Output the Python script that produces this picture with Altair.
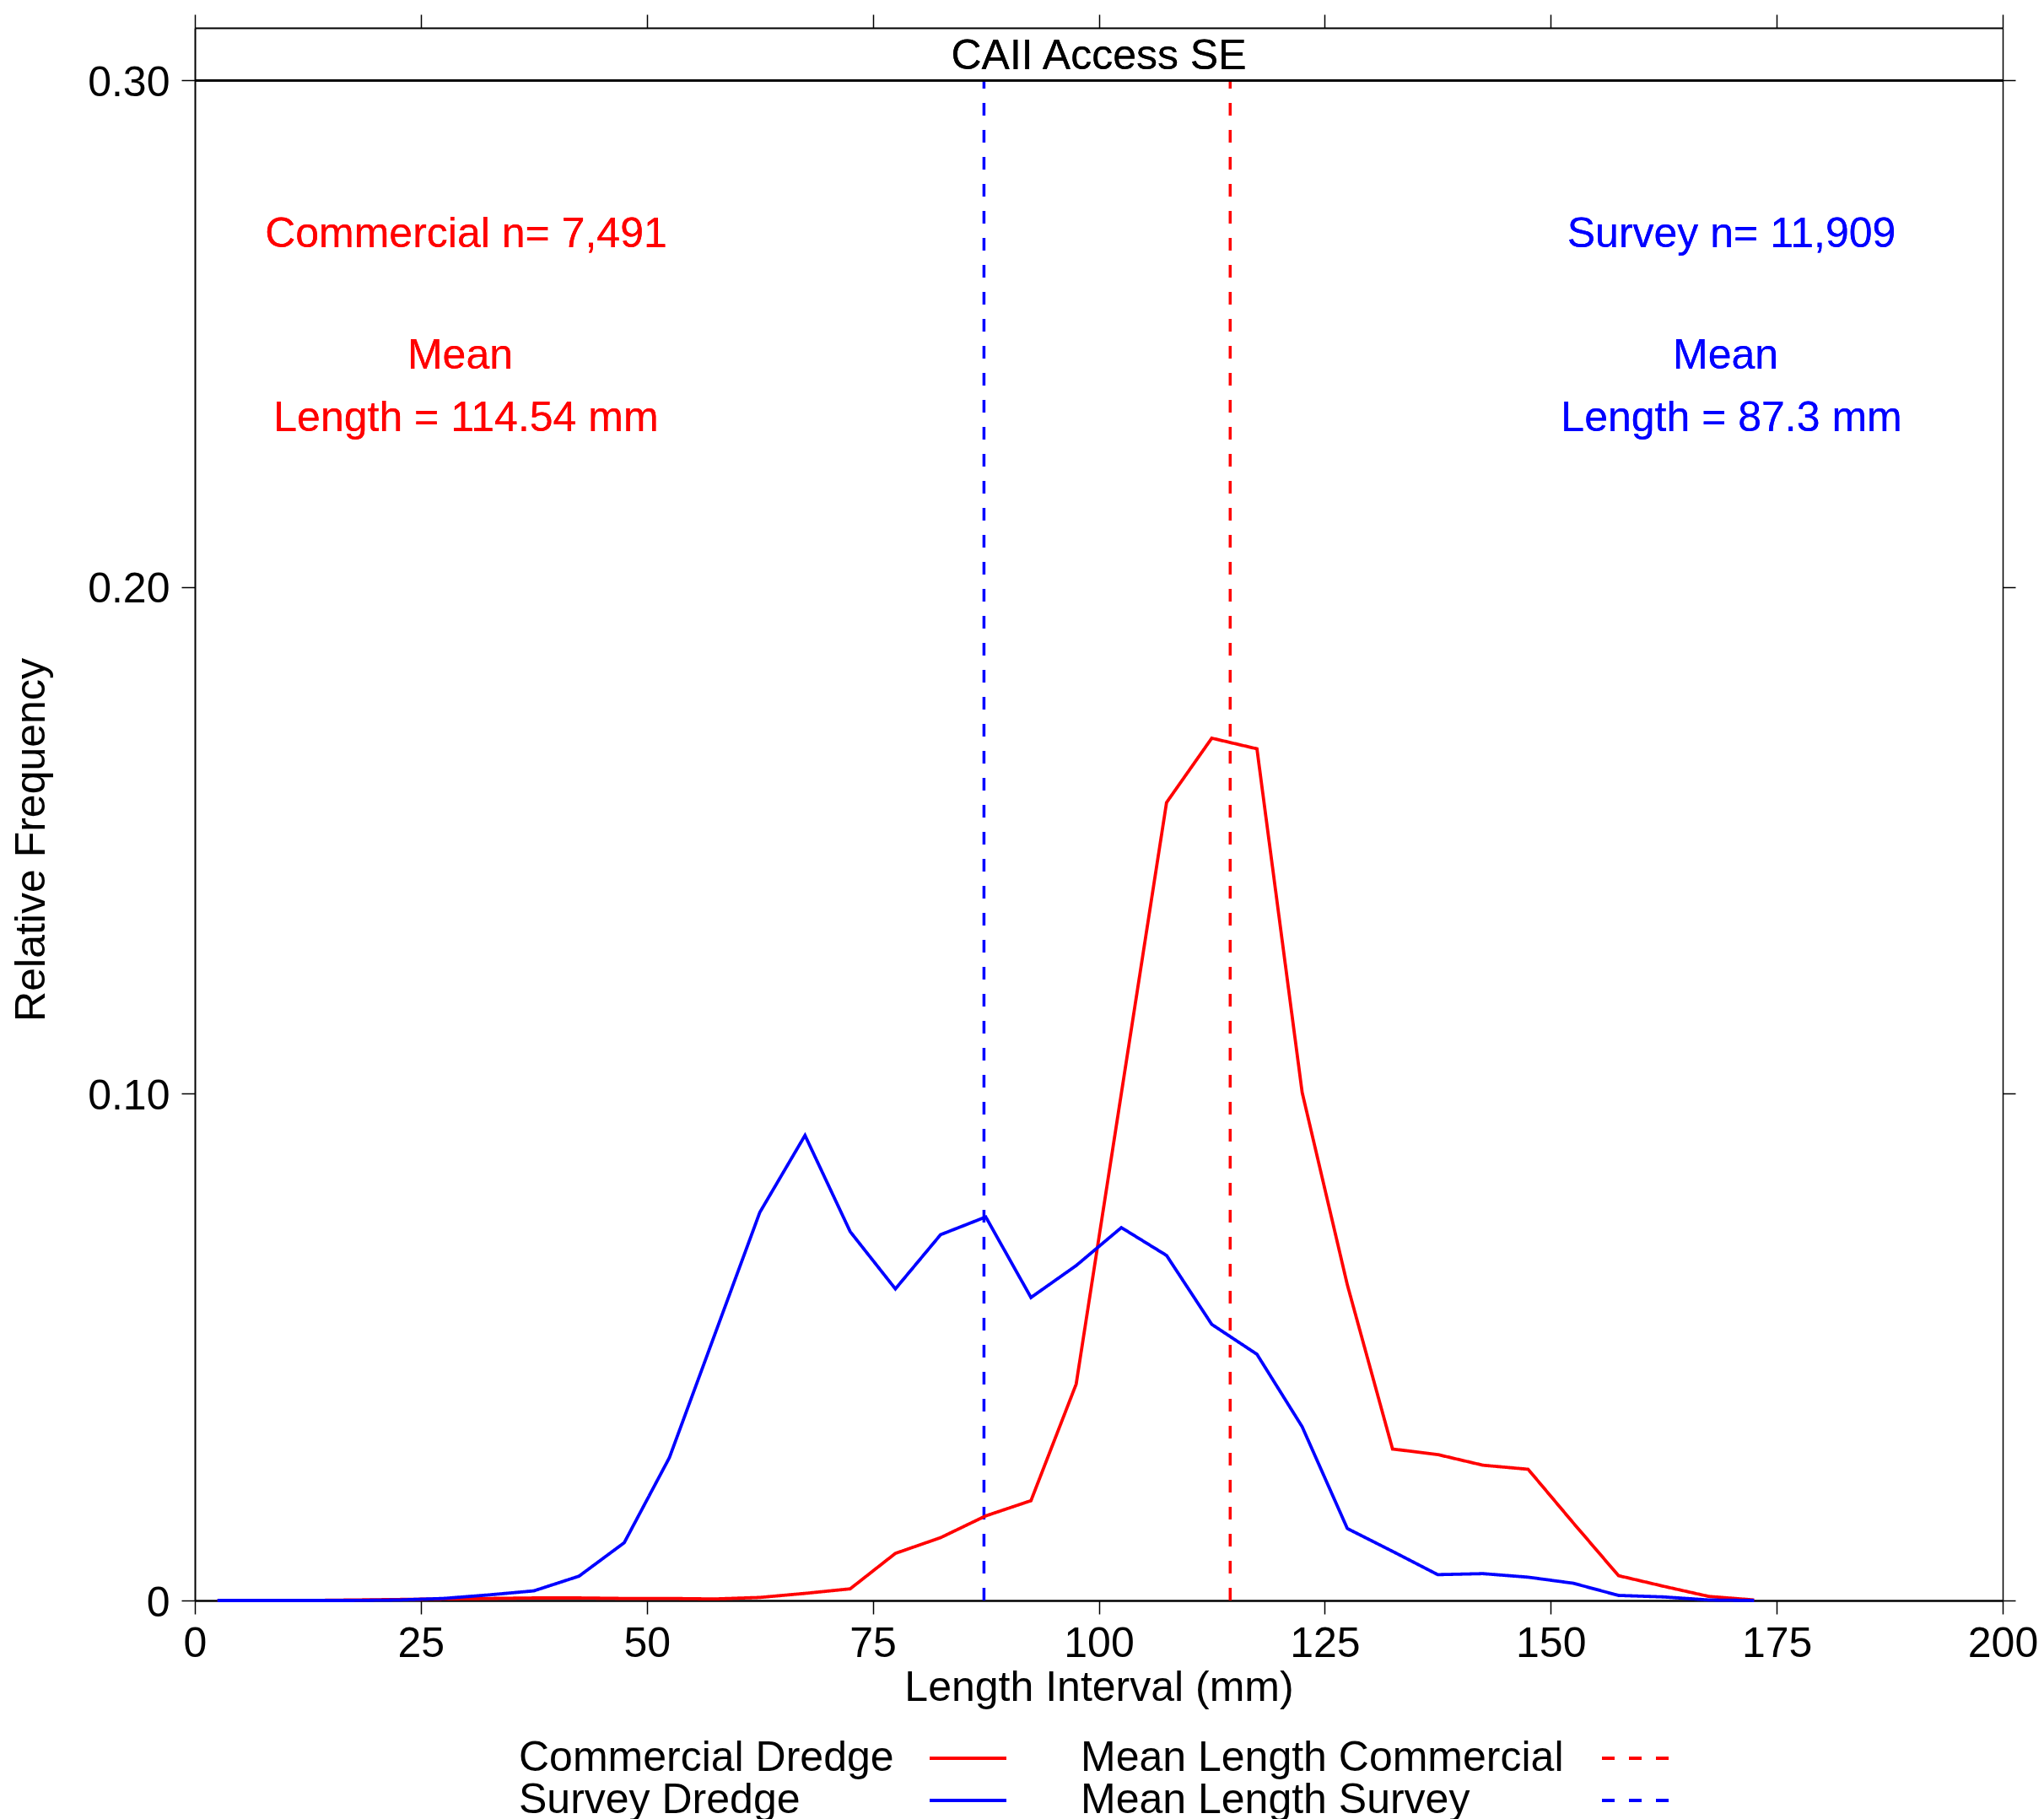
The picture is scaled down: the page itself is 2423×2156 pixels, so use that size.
import altair as alt
import pandas as pd

FONT = "Liberation Sans"

# 5 mm length intervals (bin midpoints)
length_mid = [2.5, 7.5, 12.5, 17.5, 22.5, 27.5, 32.5, 37.5, 42.5, 47.5,
              52.5, 57.5, 62.5, 67.5, 72.5, 77.5, 82.5, 87.5, 92.5, 97.5,
              102.5, 107.5, 112.5, 117.5, 122.5, 127.5, 132.5, 137.5, 142.5, 147.5,
              152.5, 157.5, 162.5, 167.5, 172.5]

commercial_freq = [0.0000, 0.0000, 0.0000, 0.0001, 0.0002, 0.0003, 0.0004, 0.0005, 0.0005, 0.0004,
                   0.0004, 0.0003, 0.0006, 0.0014, 0.0023, 0.0093, 0.0124, 0.0167, 0.0197, 0.0427,
                   0.1001, 0.1575, 0.1702, 0.1681, 0.1003, 0.0623, 0.0299, 0.0288, 0.0267, 0.0259,
                   0.0153, 0.0049, 0.0028, 0.0008, 0.0001]

survey_freq = [0.0000, 0.0000, 0.0000, 0.0000, 0.0001, 0.0004, 0.0011, 0.0019, 0.0048, 0.0114,
               0.0282, 0.0524, 0.0766, 0.0918, 0.0728, 0.0615, 0.0722, 0.0757, 0.0598, 0.0661,
               0.0736, 0.0681, 0.0545, 0.0486, 0.0343, 0.0142, 0.0097, 0.0051, 0.0053, 0.0046,
               0.0034, 0.0010, 0.0007, 0.0001, 0.0000]

series_names = ["Commercial Dredge", "Mean Length Commercial", "Survey Dredge", "Mean Length Survey"]
series_colors = ["#ff0000", "#ff0000", "#0000ff", "#0000ff"]
series_dashes = [[1, 0], [15, 17], [1, 0], [15, 17]]

mean_lengths = [114.54, 87.3]
mean_series = ["Mean Length Commercial", "Mean Length Survey"]
sample_sizes = ["7,491", "11,909"]

x_ticks = [0, 25, 50, 75, 100, 125, 150, 175, 200]
y_ticks = [0, 0.10, 0.20, 0.30]

freq = pd.DataFrame({
    "length": length_mid + length_mid,
    "freq": commercial_freq + survey_freq,
    "series": ["Commercial Dredge"] * len(length_mid) + ["Survey Dredge"] * len(length_mid),
})
means = pd.DataFrame({"mean": mean_lengths, "series": mean_series})

x_scale = alt.Scale(domain=[0, 200], nice=False, zero=False)
y_scale = alt.Scale(domain=[0, 0.3104], nice=False, zero=False)
color_scale = alt.Scale(domain=series_names, range=series_colors)
dash_scale = alt.Scale(domain=series_names, range=series_dashes)

# Two-column legend: label first, then a long line sample further right.
# The sample is a custom path twice the nominal symbol width, so entry rows stay compact.
sample_shift = "(datum.index % 2 ? 688.5 : 557.5)"
legend = alt.Legend(
    title=None, orient="none", legendX=334, legendY=2026, direction="horizontal", columns=2,
    symbolType="M-2,0H2", symbolSize=2070, symbolStrokeWidth=4,
    symbolOffset={"expr": sample_shift},
    labelFont=FONT, labelFontSize=50, labelColor="black", labelAlign="left",
    labelOffset={"expr": "-" + sample_shift}, labelLimit=2000,
    columnPadding=30, rowPadding=0, padding=0,
)

bottom_axis = alt.Axis(
    orient="bottom", values=x_ticks, tickSize=16, tickWidth=1.5, domainWidth=2.5,
    labelFlush=False, labelOverlap=False, labelBaseline="alphabetic", labelPadding=50,
    title="Length Interval (mm)", titleBaseline="alphabetic", titleY=118,
)
left_axis = alt.Axis(
    orient="left", values=y_ticks, tickSize=16, tickWidth=1.5, domainWidth=2,
    labelFlush=False, labelOverlap=False, labelBaseline="alphabetic", labelOffset=18,
    labelPadding=14, labelExpr="datum.value == 0 ? '0' : format(datum.value, '.2f')",
    title="Relative Frequency", titleBaseline="alphabetic", titleAngle=270,
    titleAlign="center", titleX=-179, titleY=962,
)
top_axis = alt.Axis(orient="top", values=x_ticks, tickSize=16, tickWidth=1.5,
                    domainWidth=2, labels=False, title=None)
right_axis = alt.Axis(orient="right", values=y_ticks, tickSize=15, tickWidth=1.5,
                      domainWidth=1.5, labels=False, title=None)

# dashed mean-length lines (also carries the top and right frame axes)
mean_rules = alt.Chart(means).mark_rule(strokeWidth=3.5).encode(
    x=alt.X("mean:Q", scale=x_scale, axis=top_axis),
    y=alt.YDatum(0, scale=y_scale, axis=right_axis),
    y2=alt.Y2Datum(0.30),
    color=alt.Color("series:N", scale=color_scale, legend=legend),
    strokeDash=alt.StrokeDash("series:N", scale=dash_scale, legend=legend),
)

# length-frequency curves
curves = alt.Chart(freq).mark_line(strokeWidth=3.8).encode(
    x=alt.X("length:Q", scale=x_scale, axis=bottom_axis),
    y=alt.Y("freq:Q", scale=y_scale, axis=left_axis),
    color=alt.Color("series:N", scale=color_scale, legend=legend),
    strokeDash=alt.StrokeDash("series:N", scale=dash_scale, legend=legend),
    order=alt.Order("length:Q"),
)

# strip separating the panel title from the data area
strip_line = alt.Chart(means).mark_rule(color="black", strokeWidth=2.7).encode(
    y=alt.YDatum(0.30, scale=y_scale, axis=None),
)

panel_title = alt.Chart(means).mark_text(
    text="CAII Access SE", fontSize=50, color="black", baseline="alphabetic", align="center",
).encode(
    x=alt.XDatum(100, scale=x_scale, axis=None),
    y=alt.YDatum(0.3022, scale=y_scale, axis=None),
)

# (text, x, y, colour, horizontal nudge)
notes = [
    (f"Commercial n= {sample_sizes[0]}", 30, 0.2671, "#ff0000", 0),
    ("Mean", 30, 0.2431, "#ff0000", -7),
    (f"Length = {mean_lengths[0]} mm", 30, 0.2308, "#ff0000", 0),
    (f"Survey n= {sample_sizes[1]}", 170, 0.2671, "#0000ff", 0),
    ("Mean", 170, 0.2431, "#0000ff", -7),
    (f"Length = {mean_lengths[1]} mm", 170, 0.2308, "#0000ff", 0),
]
note_layers = [
    alt.Chart(means).mark_text(
        text=t, fontSize=50, color=c, baseline="alphabetic", align="center", dx=dx,
    ).encode(
        x=alt.XDatum(xv, scale=x_scale, axis=None),
        y=alt.YDatum(yv, scale=y_scale, axis=None),
    )
    for t, xv, yv, c, dx in notes
]

chart = alt.layer(
    mean_rules, curves, strip_line, panel_title, *note_layers
).resolve_axis(
    x="independent", y="independent"
).properties(
    width=2143, height=1864,
    autosize=alt.AutoSizeParams(type="none"),
    padding={"left": 231, "top": 33, "right": 49, "bottom": 259},
    background="white",
).configure_view(
    stroke=None
).configure_axis(
    grid=False, labelFont=FONT, titleFont=FONT, labelFontSize=50, titleFontSize=50,
    titleFontWeight="normal", labelColor="black", titleColor="black",
    tickColor="black", domainColor="black",
).configure_text(font=FONT)

chart.save("out.html", embed_options={"renderer": "svg", "actions": False})
